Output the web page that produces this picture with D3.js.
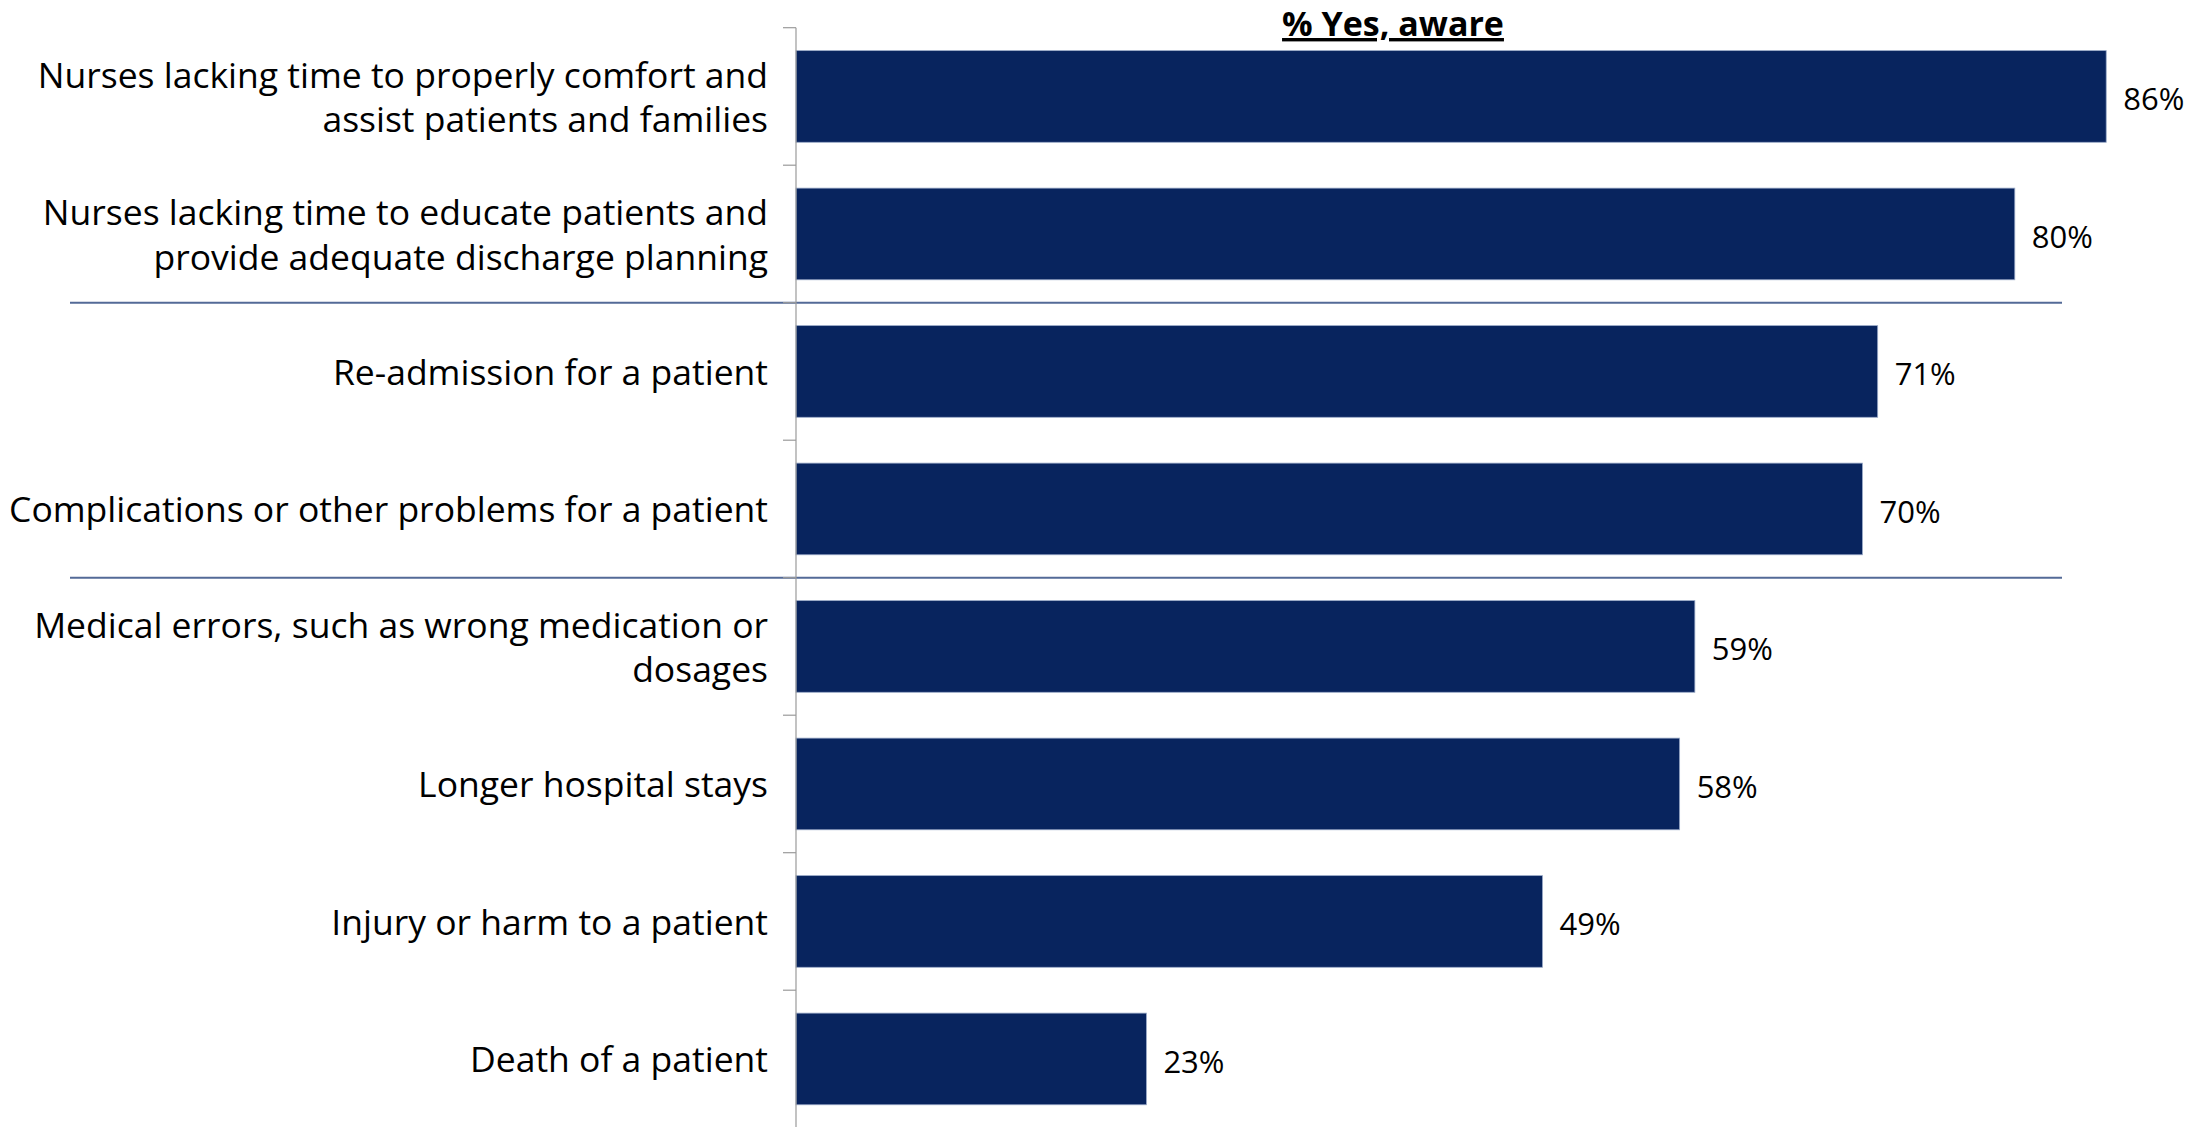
<!DOCTYPE html>
<html>
<head>
<meta charset="utf-8">
<script src="https://cdn.jsdelivr.net/npm/d3@7"></script>
<style>
  html, body { margin: 0; padding: 0; background: #fff; }
  svg { display: block; }
  text { font-family: "Open Sans", "Noto Sans", sans-serif; fill: #000; }
</style>
</head>
<body>
<svg id="chart" width="2197" height="1127"></svg>
<script>
// Survey items (line breaks mark where the label wraps)
const categories = [
  "Nurses lacking time to properly comfort and\nassist patients and families",
  "Nurses lacking time to educate patients and\nprovide adequate discharge planning",
  "Re-admission for a patient",
  "Complications or other problems for a patient",
  "Medical errors, such as wrong medication or\ndosages",
  "Longer hospital stays",
  "Injury or harm to a patient",
  "Death of a patient"
];
// Share answering "Yes, aware" (%)
const values = [86, 80, 71, 70, 59, 58, 49, 23];
// Group dividers are drawn after these category indices
const groupBreaksAfter = [1, 3];
const title = "% Yes, aware";

const svg = d3.select("#chart");

const x = d3.scaleLinear().domain([0, 100]).range([796, 2319.5]);
const y = d3.scaleBand()
  .domain(categories)
  .range([27.7, 1127.7])
  .paddingInner(1 / 3)
  .paddingOuter(1 / 6);

const step = y.step();
// Top edge of the band slot that holds a category
const bandStart = c => y(c) - (step - y.bandwidth()) / 2;

// Group divider lines
svg.append("g")
  .selectAll("line")
  .data(groupBreaksAfter)
  .join("line")
  .attr("x1", 70).attr("x2", 2062)
  .attr("y1", i => bandStart(categories[i + 1]))
  .attr("y2", i => bandStart(categories[i + 1]))
  .attr("stroke", "#536a97")
  .attr("stroke-width", 2);

// Bars
svg.append("g")
  .selectAll("rect")
  .data(values)
  .join("rect")
  .attr("x", x(0))
  .attr("y", (d, i) => y(categories[i]))
  .attr("width", d => x(d) - x(0))
  .attr("height", y.bandwidth())
  .attr("fill", "#08245e")
  .attr("stroke", "#9aaac8")
  .attr("stroke-width", 0.8);

// Category axis: line plus ticks on band boundaries
const axis = svg.append("g");
axis.append("line")
  .attr("x1", x(0)).attr("x2", x(0))
  .attr("y1", bandStart(categories[0])).attr("y2", 1127)
  .attr("stroke", "#9a9a9a").attr("stroke-width", 1.2);
axis.selectAll("line.tick")
  .data(categories)
  .join("line")
  .attr("class", "tick")
  .attr("x1", x(0) - 13).attr("x2", x(0))
  .attr("y1", c => bandStart(c)).attr("y2", c => bandStart(c))
  .attr("stroke", "#9a9a9a").attr("stroke-width", 1.2);

// Category labels
const lineH = 44.8;
svg.append("g")
  .selectAll("text")
  .data(categories)
  .join("text")
  .attr("text-anchor", "end")
  .style("font-size", "35.5px")
  .each(function (c) {
    const lines = c.split("\n");
    const cy = y(c) + y.bandwidth() / 2;
    const first = cy + 13.5 - (lines.length - 1) * lineH / 2;
    d3.select(this).selectAll("tspan")
      .data(lines)
      .join("tspan")
      .attr("x", 768)
      .attr("y", (l, k) => first + k * lineH)
      .text(l => l);
  });

// Value labels
svg.append("g")
  .selectAll("text")
  .data(values)
  .join("text")
  .attr("x", d => x(d) + 17)
  .attr("y", (d, i) => y(categories[i]) + y.bandwidth() / 2 + 14)
  .style("font-size", "31px")
  .text(d => d + "%");

// Title
svg.append("text")
  .attr("x", 1393)
  .attr("y", 36)
  .attr("text-anchor", "middle")
  .style("font-size", "34px")
  .style("font-weight", "bold")
  .style("text-decoration", "underline")
  .text(title);
</script>
</body>
</html>
